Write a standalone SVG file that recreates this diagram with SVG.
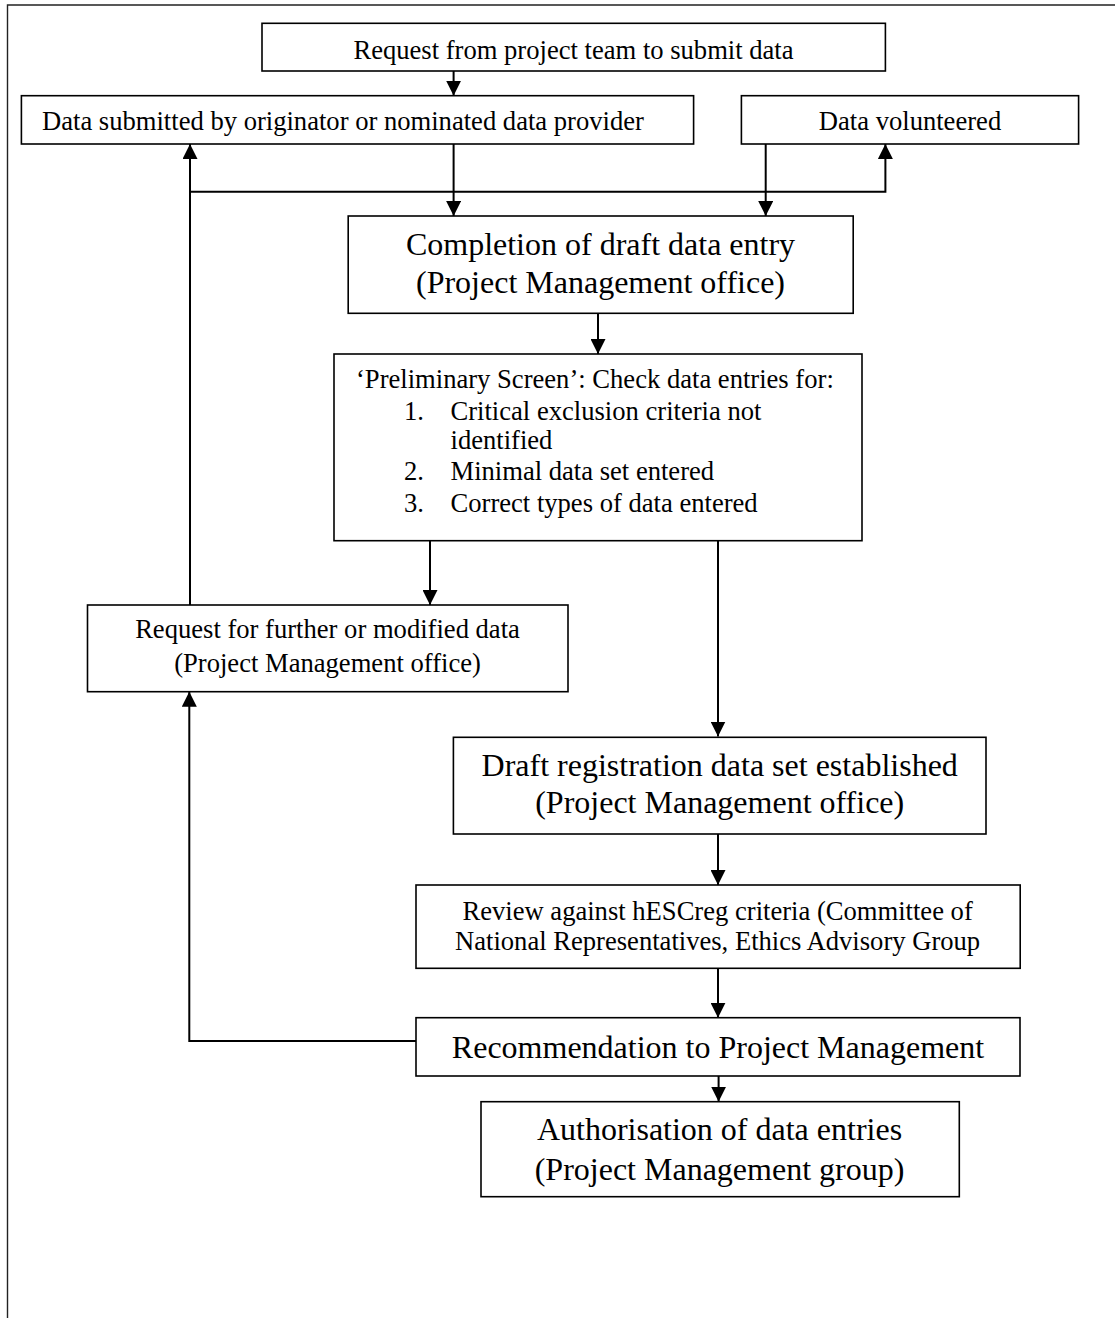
<svg xmlns="http://www.w3.org/2000/svg" width="1115" height="1318" viewBox="0 0 1115 1318">
<style>
.box{fill:#fff;stroke:#000;stroke-width:1.6}
.t{font-family:"Liberation Serif","Times New Roman",serif;fill:#000}
.s{font-size:26.6px}
.l{font-size:32px}
.c{text-anchor:middle}
.con{fill:none;stroke:#000;stroke-width:2}
.frame{fill:none;stroke:#222;stroke-width:1.4}
</style>
<defs>
<marker id="ah" markerUnits="userSpaceOnUse" markerWidth="15" markerHeight="15" refX="15" refY="7.5" orient="auto">
<path d="M0,0 L15,7.5 L0,15 z" fill="#000"/>
</marker>
</defs>
<rect width="1115" height="1318" fill="#fff"/>
<path class="frame" d="M7.5,1318 V5 H1115"/>

<g id="connectors">
<path class="con" d="M453.6,71 V95.7" marker-end="url(#ah)"/>
<path class="con" d="M453.6,144 V216" marker-end="url(#ah)"/>
<path class="con" d="M765.7,144 V216" marker-end="url(#ah)"/>
<path class="con" d="M190,605 V144" marker-end="url(#ah)"/>
<path class="con" d="M190,191.7 H885.4 V144" marker-end="url(#ah)"/>
<path class="con" d="M598,313.3 V354" marker-end="url(#ah)"/>
<path class="con" d="M430,541 V605" marker-end="url(#ah)"/>
<path class="con" d="M718,541 V736.5" marker-end="url(#ah)"/>
<path class="con" d="M718,834 V885" marker-end="url(#ah)"/>
<path class="con" d="M718,968.3 V1017.7" marker-end="url(#ah)"/>
<path class="con" d="M718.6,1076 V1101.7" marker-end="url(#ah)"/>
<path class="con" d="M416,1041 H189.3 V691.7" marker-end="url(#ah)"/>
</g>

<g id="request">
<rect class="box" x="262" y="23.3" width="623.4" height="47.7"/>
<text class="t s c" x="573.5" y="59.3">Request from project team to submit data</text>
</g>

<g id="submitted">
<rect class="box" x="21.4" y="95.7" width="672.2" height="48.3"/>
<text class="t s" x="42" y="130">Data submitted by originator or nominated data provider</text>
</g>

<g id="volunteered">
<rect class="box" x="741.4" y="95.7" width="337.2" height="48.3"/>
<text class="t s c" x="910" y="130">Data volunteered</text>
</g>

<g id="completion">
<rect class="box" x="348.2" y="216" width="505" height="97.3"/>
<text class="t l c" x="600.5" y="255">Completion of draft data entry</text>
<text class="t l c" x="600.5" y="292.7">(Project Management office)</text>
</g>

<g id="preliminary">
<rect class="box" x="334" y="354" width="528" height="186.7"/>
<text class="t s" x="356" y="388.3">‘Preliminary Screen’: Check data entries for:</text>
<text class="t s" x="404" y="420">1.</text>
<text class="t s" x="450.5" y="420">Critical exclusion criteria not</text>
<text class="t s" x="450.5" y="449">identified</text>
<text class="t s" x="404" y="480">2.</text>
<text class="t s" x="450.5" y="480">Minimal data set entered</text>
<text class="t s" x="404" y="511.7">3.</text>
<text class="t s" x="450.5" y="511.7">Correct types of data entered</text>
</g>

<g id="further">
<rect class="box" x="87.5" y="605" width="480.5" height="86.7"/>
<text class="t s c" x="327.5" y="638.3">Request for further or modified data</text>
<text class="t s c" x="327.5" y="671.7">(Project Management office)</text>
</g>

<g id="draft">
<rect class="box" x="453.4" y="737.3" width="532.6" height="96.7"/>
<text class="t l c" x="719.7" y="776">Draft registration data set established</text>
<text class="t l c" x="719.7" y="812.7">(Project Management office)</text>
</g>

<g id="review">
<rect class="box" x="416" y="885" width="604.2" height="83.3"/>
<text class="t s c" x="717.6" y="920">Review against hESCreg criteria (Committee of</text>
<text class="t s c" x="717.6" y="950">National Representatives, Ethics Advisory Group</text>
</g>

<g id="recommendation">
<rect class="box" x="416" y="1017.7" width="604" height="58.3"/>
<text class="t l c" x="718" y="1058">Recommendation to Project Management</text>
</g>

<g id="authorisation">
<rect class="box" x="481" y="1101.7" width="478.3" height="95"/>
<text class="t l c" x="719.5" y="1140">Authorisation of data entries</text>
<text class="t l c" x="719.5" y="1180">(Project Management group)</text>
</g>
</svg>
